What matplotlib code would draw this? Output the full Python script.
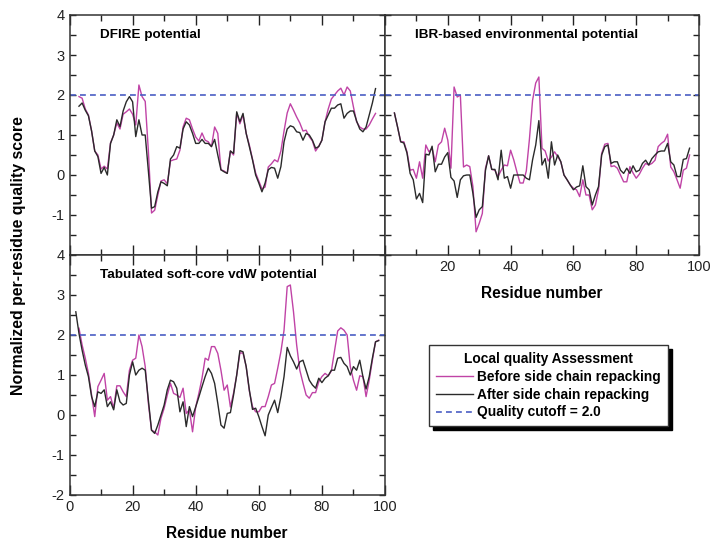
import numpy as np
import matplotlib
matplotlib.use("Agg")
import matplotlib.pyplot as plt
from matplotlib.lines import Line2D

plt.rcParams['font.family'] = ['Liberation Sans', 'DejaVu Sans']
plt.rcParams['axes.unicode_minus'] = False

# residue numbers
res_top = np.arange(3, 98)
res_bot = np.arange(2, 99)

# DFIRE potential
dfire_after = [1.72, 1.8, 1.62, 1.48, 1.1, 0.6, 0.46, 0.04, 0.19, 0.0,
               0.79, 1.0, 1.38, 1.21, 1.6, 1.83, 1.96, 1.83, 0.96, 1.38,
               1.0, 1.0, 0.1, -0.83, -0.79, -0.42, -0.17, -0.21, -0.27, 0.4,
               0.5, 0.71, 0.67, 1.15, 1.33, 1.25, 1.04, 0.79, 0.79, 0.89,
               0.79, 0.79, 0.71, 0.89, 0.5, 0.13, 0.08, 0.04, 0.6, 0.54,
               1.58, 1.33, 1.54, 1.04, 0.71, 0.38, 0.0, -0.2, -0.42, -0.2,
               0.13, 0.19, 0.17, -0.08, 0.21, 0.83, 1.15, 1.23, 1.2, 1.08,
               1.06, 0.87, 1.04, 1.0, 0.87, 0.67, 0.71, 0.87, 1.33, 1.5,
               1.67, 1.67, 1.75, 1.78, 1.42, 1.54, 1.6, 1.6, 1.35, 1.15,
               1.08, 1.2, 1.5, 1.8, 2.16]
dfire_before = [1.96, 1.92, 1.65, 1.5, 1.1, 0.6, 0.5, 0.15, 0.22, 0.15,
                0.8, 1.0, 1.3, 1.15, 1.52, 1.58, 1.65, 1.52, 1.25, 2.25,
                1.96, 1.84, 0.6, -0.95, -0.88, -0.5, -0.15, -0.12, -0.22, 0.35,
                0.38, 0.4, 0.62, 1.2, 1.42, 1.38, 1.15, 0.95, 0.85, 1.05,
                0.87, 0.83, 0.71, 1.2, 1.04, 0.13, 0.1, 0.04, 0.6, 0.5,
                1.55, 1.28, 1.5, 1.04, 0.75, 0.4, 0.05, -0.15, -0.35, -0.3,
                0.2, 0.28, 0.38, 0.33, 0.6, 1.1, 1.55, 1.78, 1.62, 1.45,
                1.3, 1.1, 1.12, 0.96, 0.85, 0.6, 0.72, 0.87, 1.33, 1.65,
                1.9, 2.0, 2.1, 2.17, 2.0, 2.2, 2.1, 1.7, 1.33, 1.2,
                1.15, 1.15, 1.25, 1.4, 1.54]

# IBR-based environmental potential
ibr_after = [1.55, 1.2, 0.83, 0.8, 0.55, 0.04, -0.12, -0.6, -0.46, -0.69,
             0.52, 0.5, 0.72, 0.08, 0.27, 0.27, 0.45, 0.56, -0.06, -0.15,
             -0.56, -0.12, -0.02, 0.0, 0.0, -0.46, -1.06, -0.87, -0.79, 0.12,
             0.48, 0.14, 0.14, -0.12, 0.62, -0.08, -0.04, -0.33, 0.0, 0.0,
             0.0, 0.0, -0.08, -0.12, 0.38, 0.75, 1.36, 0.25, 0.41, -0.08,
             0.83, 0.25, 0.5, 0.33, 0.0, -0.12, -0.25, -0.37, -0.3, -0.27,
             0.23, -0.29, -0.37, -0.75, -0.5, -0.29, 0.5, 0.71, 0.75, 0.29,
             0.33, 0.33, 0.12, 0.04, 0.17, 0.04, 0.23, 0.08, 0.12, 0.29,
             0.37, 0.25, 0.41, 0.5, 0.58, 0.6, 0.6, 0.79, 0.33, 0.25,
             -0.04, -0.04, 0.39, 0.41, 0.67]
ibr_before = [1.55, 1.2, 0.83, 0.83, 0.58, 0.12, 0.14, -0.08, 0.33, -0.08,
              0.75, 0.58, 0.67, 0.33, 0.75, 0.83, 1.17, 0.87, 0.17, 2.2,
              1.95, 2.0, 0.2, 0.25, 0.21, -0.29, -1.42, -1.21, -0.96, 0.17,
              0.48, 0.14, 0.12, -0.04, 0.12, 0.25, 0.23, 0.62, 0.38, 0.08,
              -0.2, -0.2, 0.1, 0.9, 1.87, 2.3, 2.45, 0.67, 0.6, 0.35,
              0.45, 0.58, 0.46, 0.33, 0.0, -0.12, -0.25, -0.33, -0.37, -0.54,
              -0.12, -0.5, -0.5, -0.87, -0.75, -0.37, 0.54, 0.77, 0.79, 0.21,
              0.23, 0.17, 0.0, -0.17, -0.17, 0.21, 0.05, -0.08, 0.02, 0.17,
              0.29, 0.25, 0.29, 0.37, 0.71, 0.79, 0.85, 1.02, 0.2, 0.08,
              -0.12, -0.33, 0.12, 0.17, 0.5]

# Tabulated soft-core vdW potential
vdw_after = [2.58, 2.04, 1.62, 1.25, 0.96, 0.46, 0.21, 0.58, 0.54, 0.63,
             0.21, 0.33, 0.13, 0.63, 0.33, 0.25, 0.29, 1.0, 1.33, 1.0,
             1.12, 1.17, 1.12, 0.37, -0.38, -0.46, -0.25, 0.0, 0.25, 0.63,
             0.87, 0.83, 0.67, 0.08, 0.33, -0.29, 0.21, -0.04, 0.2, 0.45,
             0.71, 0.96, 1.17, 1.04, 0.79, 0.29, -0.25, -0.33, 0.04, 0.06,
             0.5, 1.0, 1.61, 1.58, 1.21, 0.63, 0.14, 0.17, -0.04, -0.29,
             -0.52, 0.0, 0.19, 0.37, 0.06, 0.46, 0.96, 1.69, 1.48, 1.33,
             1.15, 1.33, 1.37, 1.12, 0.87, 0.75, 0.67, 0.92, 0.81, 0.92,
             0.98, 1.12, 1.12, 1.42, 1.44, 1.29, 1.21, 1.0, 1.21, 1.12,
             1.37, 0.96, 0.65, 0.96, 1.42, 1.83, 1.86]
vdw_before = [np.nan, 2.17, 1.75, 1.42, 1.04, 0.5, -0.04, 0.71, 0.87, 1.04,
              0.37, 0.46, 0.17, 0.73, 0.73, 0.58, 0.46, 1.12, 1.37, 1.42,
              2.0, 1.71, 1.21, 0.29, -0.38, -0.42, -0.5, -0.08, 0.17, 0.5,
              0.79, 0.54, 0.5, 0.44, 0.67, 0.04, 0.13, -0.42, 0.2, 0.54,
              0.92, 1.42, 1.37, 1.71, 1.71, 1.54, 1.12, 0.62, 0.75, 0.2,
              0.55, 1.0, 1.55, 1.55, 1.21, 0.6, 0.21, 0.08, 0.08, 0.21,
              0.21, 0.46, 0.75, 0.79, 1.17, 1.58, 2.12, 3.21, 3.25, 2.58,
              1.75, 1.12, 0.8, 0.5, 0.42, 0.56, 0.56, 0.83, 0.96, 1.04,
              0.98, 1.1, 1.6, 2.1, 2.18, 2.12, 2.0, 1.21, 0.87, 0.62,
              0.98, 0.96, 0.46, 0.87, 1.37, 1.83, 1.87]

cutoff = 2.0
titles = ['DFIRE potential', 'IBR-based environmental potential',
          'Tabulated soft-core vdW potential']

c_before = '#c043a6'
c_after = '#2a2a2a'
c_cut = '#4a5ec4'

fig = plt.figure(figsize=(7.19, 5.52), dpi=100)
W, H = 719, 552


def add_ax(x0, y0, x1, y1):
    return fig.add_axes([x0 / W, 1 - y1 / H, (x1 - x0) / W, (y1 - y0) / H])


ax1 = add_ax(69.5, 15, 385, 255)
ax2 = add_ax(385, 15, 699, 255)
ax3 = add_ax(69.5, 255, 385, 495)

panels = [(ax1, res_top, dfire_before, dfire_after, titles[0]),
          (ax2, res_top, ibr_before, ibr_after, titles[1]),
          (ax3, res_bot, vdw_before, vdw_after, titles[2])]

for ax, x, before, after, title in panels:
    ax.plot(x, before, color=c_before, lw=1.0)
    ax.plot(x, after, color=c_after, lw=1.0)
    ax.axhline(cutoff, color=c_cut, lw=1.2, ls=(0, (3.5, 2.5)))
    ax.set_xlim(0, 100)
    ax.set_ylim(-2, 4)
    ax.set_xticks(np.arange(0, 101, 20))
    ax.set_xticks(np.arange(10, 100, 20), minor=True)
    ax.set_yticks(np.arange(-2, 5, 1))
    ax.set_yticks(np.arange(-1.5, 4, 1), minor=True)
    ax.tick_params(which='both', direction='in', top=True, right=True,
                   width=1, labelsize=10.5, colors='#222222')
    ax.tick_params(which='major', axis='x', length=7)
    ax.tick_params(which='minor', axis='x', length=4.5)
    ax.tick_params(which='both', axis='y', length=4.5)
    for sp in ax.spines.values():
        sp.set_linewidth(1.1)
        sp.set_color('#333333')
    ax.text(0.096, 0.918, title, transform=ax.transAxes, fontsize=9.7,
            fontweight='bold', va='center', ha='left')

ax1.set_xticklabels([])
ax1.set_yticklabels(['', '-1', '0', '1', '2', '3', '4'])
ax2.set_yticklabels([])
ax2.set_xticklabels(['', '20', '40', '60', '80', '100'])
ax2.set_xlabel('Residue number', fontsize=11.2, fontweight='bold', labelpad=9)
ax3.set_xlabel('Residue number', fontsize=11.2, fontweight='bold', labelpad=9)

fig.text(0.026, 1 - 256 / H, 'Normalized per-residue quality score',
         rotation=90, fontsize=11.4, fontweight='bold', ha='center', va='center')

handles = [Line2D([], [], color=c_before, lw=1.0),
           Line2D([], [], color=c_after, lw=1.0),
           Line2D([], [], color=c_cut, lw=1.2, ls=(0, (3.5, 2.5)))]
labels = ['Before side chain repacking', 'After side chain repacking',
          'Quality cutoff = 2.0']
leg = fig.legend(handles, labels, title='Local quality Assessment',
                 loc='upper left', bbox_to_anchor=(429 / W, 1 - 345 / H),
                 fontsize=9.9, title_fontproperties={'weight': 'bold', 'size': 9.9},
                 frameon=True, fancybox=False, edgecolor='#333333',
                 shadow={'color': 'black', 'alpha': 1, 'ox': 3, 'oy': -3},
                 handlelength=2.7, handletextpad=0.3, labelspacing=0.28,
                 borderpad=0.5, borderaxespad=0)
leg.get_frame().set_linewidth(1.0)
for t in leg.get_texts():
    t.set_fontweight('bold')

fig.savefig('out.png', dpi=100)
